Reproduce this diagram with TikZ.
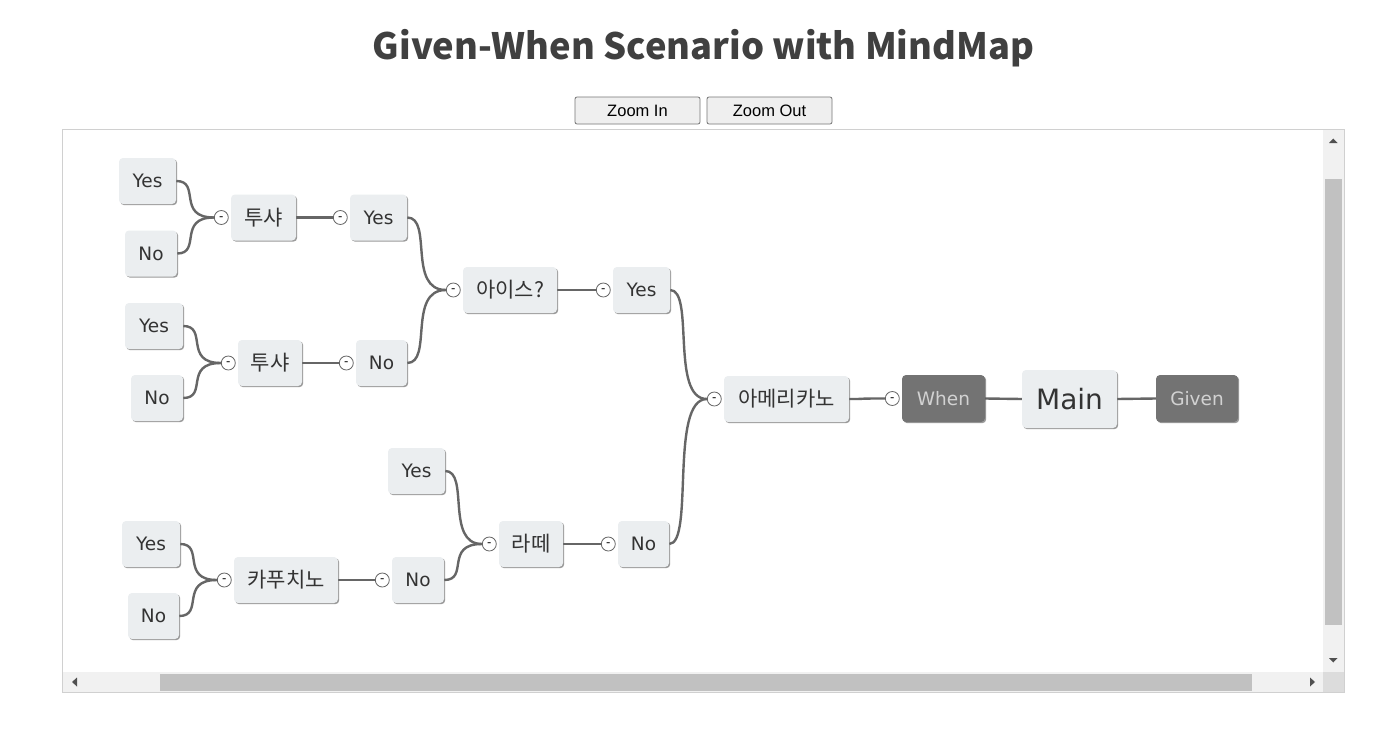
\documentclass[tikz,border=0pt]{standalone}
\usepackage{graphicx}
\usepackage{fontspec}
\setmainfont{DejaVu Sans}
\newfontfamily\krfont{Noto Sans CJK KR}
\newfontfamily\uifont{Liberation Sans}
\usetikzlibrary{calc,shadows,backgrounds}

\definecolor{nodefill}{HTML}{EBEEF0}
\definecolor{nodetext}{HTML}{333333}
\definecolor{linkgray}{HTML}{666666}
\definecolor{darkfill}{HTML}{737373}
\definecolor{darktext}{HTML}{D2D2D2}
\definecolor{titlegray}{HTML}{404040}
\definecolor{btnfill}{HTML}{EFEFEF}
\definecolor{btnedge}{HTML}{767676}
\definecolor{frameedge}{HTML}{D0D0D0}
\definecolor{track}{HTML}{F1F1F1}
\definecolor{thumb}{HTML}{C1C1C1}
\definecolor{corner}{HTML}{DCDCDC}
\definecolor{arrowgray}{HTML}{505050}

\tikzset{
  topic/.style={rounded corners=4pt, fill=nodefill, text=nodetext,
    minimum height=46pt, inner sep=0pt,
    font=\fontsize{18.5}{20}\selectfont,
    drop shadow={shadow xshift=1.2pt, shadow yshift=-1.2pt, opacity=0.6, fill=black!65}},
  kr/.style={font=\krfont\fontsize{21}{23}\selectfont},
  dark/.style={fill=darkfill, text=darktext},
  expander/.style={circle, draw=linkgray, fill=white, line width=0.8pt,
    minimum size=14pt, inner sep=0pt, text=black,
    text height=0.62em, text depth=0.12em,
    font=\fontsize{12}{12}\selectfont},
  link/.style={draw=linkgray, line width=2.4pt},
  button/.style={rounded corners=2pt, fill=btnfill, draw=btnedge, line width=0.8pt,
    minimum width=125pt, minimum height=27pt, inner sep=0pt,
    font=\uifont\fontsize{16.5}{18}\selectfont, text=black},
}

% child.east -> toggle of the parent, mind-map style Bezier
\newcommand\mmlink[2]{%
  \draw[link] let \p1=(x-#1.west), \p2=(#2.east) in
    (\p2) .. controls ({\x2+(\x1-\x2)*2/3},\y2) and (\x2,\y1) .. (\p1);}
% collapse toggle on the left side of a topic
\newcommand\toggle[1]{%
  \node[expander] (x-#1) at ([xshift=-9.5pt]#1.west) {-};}

\begin{document}
\begin{tikzpicture}[x=1pt,y=-1pt]
\useasboundingbox (0,0) rectangle (1389,752);

% heading and toolbar
\node[text=titlegray] (title) at (703.5,48)
  {\resizebox{661pt}{!}{\krfont\bfseries Given-When Scenario with MindMap}};
\node[button] (zin) at (637.5,110.5) {Zoom In};
\node[button] (zout) at (769.5,110.5) {Zoom Out};

% topics
\node[topic, font=\fontsize{28}{30}\selectfont, minimum width=95pt, minimum height=58pt] (main) at (1069.5,399) {Main};
\node[topic, dark, minimum width=83pt, minimum height=47pt] (when) at (943.5,398.5) {When};
\node[topic, dark, minimum width=82pt, minimum height=47pt] (given) at (1197,398.5) {Given};
\node[topic, kr, minimum width=125pt] (ame) at (786.5,399) {아메리카노};
\node[topic, minimum width=57pt] (yA) at (641.5,290) {Yes};
\node[topic, minimum width=51pt] (nA) at (643.5,544) {No};
\node[topic, kr, minimum width=94pt] (ice) at (510,290) {아이스?};
\node[topic, minimum width=57pt] (y2) at (378.5,217.5) {Yes};
\node[topic, minimum width=51pt] (n2) at (381.5,363) {No};
\node[topic, kr, minimum width=65pt] (t1) at (263.5,217.5) {투샤};
\node[topic, kr, minimum width=64pt] (t2) at (270,363) {투샤};
\node[topic, minimum width=57pt] (y1) at (147.5,181) {Yes};
\node[topic, minimum width=52pt] (n1) at (151,253.5) {No};
\node[topic, minimum width=58pt] (y3) at (154,326) {Yes};
\node[topic, minimum width=52pt] (n3) at (157,398) {No};
\node[topic, kr, minimum width=64pt] (latte) at (531,544) {라떼};
\node[topic, minimum width=57pt] (yL) at (416.5,471) {Yes};
\node[topic, minimum width=52pt] (n5) at (418,580) {No};
\node[topic, kr, minimum width=104pt] (cap) at (286,580) {카푸치노};
\node[topic, minimum width=58pt] (y4) at (151,544) {Yes};
\node[topic, minimum width=51pt] (n4) at (153.5,616) {No};

% collapse toggles
\toggle{when}
\toggle{ame}
\toggle{yA}
\toggle{nA}
\toggle{ice}
\toggle{y2}
\toggle{n2}
\toggle{t1}
\toggle{t2}
\toggle{latte}
\toggle{n5}
\toggle{cap}

% page, canvas frame and connectors, all behind the topics
\begin{pgfonlayer}{background}
  \fill[white] (0,0) rectangle (1389,752);
  \draw[frameedge, fill=white, line width=1pt] (62.5,129.5) rectangle (1344.5,692.5);
  \draw[link] (main.west) -- (when.east);
  \draw[link] (main.east) -- (given.west);
  \mmlink{when}{ame}
  \mmlink{ame}{yA}
  \mmlink{ame}{nA}
  \mmlink{yA}{ice}
  \mmlink{ice}{y2}
  \mmlink{ice}{n2}
  \mmlink{y2}{t1}
  \mmlink{t1}{y1}
  \mmlink{t1}{n1}
  \mmlink{n2}{t2}
  \mmlink{t2}{y3}
  \mmlink{t2}{n3}
  \mmlink{nA}{latte}
  \mmlink{latte}{yL}
  \mmlink{latte}{n5}
  \mmlink{n5}{cap}
  \mmlink{cap}{y4}
  \mmlink{cap}{n4}
\end{pgfonlayer}

% scroll bars
\fill[track] (1323,130) rectangle (1344,672);
\fill[thumb] (1325,179) rectangle (1342,625);
\fill[track] (63,672) rectangle (1323,692);
\fill[thumb] (160,674) rectangle (1252,691);
\fill[corner] (1323,672) rectangle (1344,692);
\fill[arrowgray] (1329,143) -- (1337.5,143) -- (1333.25,138.5) -- cycle;
\fill[arrowgray] (1329,658) -- (1337.5,658) -- (1333.25,662.5) -- cycle;
\fill[arrowgray] (77,677.5) -- (77,686.5) -- (72,682) -- cycle;
\fill[arrowgray] (1310,677.5) -- (1310,686.5) -- (1315,682) -- cycle;
\end{tikzpicture}
\end{document}
